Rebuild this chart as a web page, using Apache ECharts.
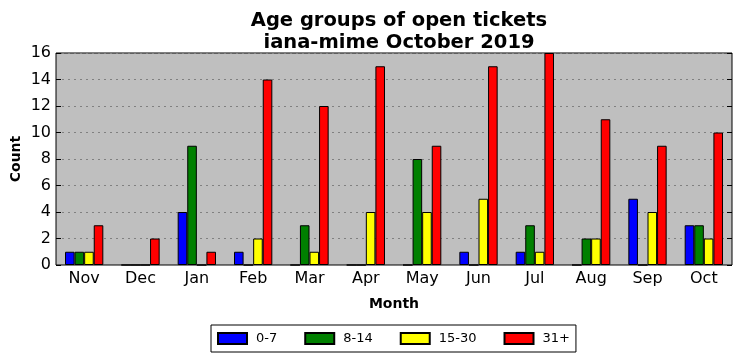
<!DOCTYPE html>
<html>
<head>
<meta charset="utf-8">
<script src="https://cdn.jsdelivr.net/npm/echarts@6/dist/echarts.min.js"></script>
<style>html,body{margin:0;padding:0;background:#fff}#c{width:741px;height:361px}</style>
</head>
<body>
<div id="c"></div>
<script>
var months = ['Nov','Dec','Jan','Feb','Mar','Apr','May','Jun','Jul','Aug','Sep','Oct'];
var seriesNames = ['0-7','8-14','15-30','31+'];
var colors = ['#0000ff','#008000','#ffff00','#ff0000'];
var age0_7   = [1,0,4,1,0,0,0,1,1,0,5,3];
var age8_14  = [1,0,9,0,3,0,8,0,3,2,0,3];
var age15_30 = [1,0,0,2,1,4,4,5,1,2,4,2];
var age31p   = [3,2,1,14,12,15,9,15,16,11,9,10];
var yTicks = [0,2,4,6,8,10,12,14,16];

var font = 'DejaVu Sans';
var values = [age0_7, age8_14, age15_30, age31p];
var chart = echarts.init(document.getElementById('c'));
chart.setOption({
  animation: false,
  textStyle: {fontFamily: font},
  title: {
    text: 'Age groups of open tickets\niana-mime October 2019',
    left: 394, top: 5, textAlign: 'center',
    textStyle: {fontFamily: font, fontSize: 19.5, fontWeight: 'bold', color: '#000', lineHeight: 22}
  },
  legend: {
    data: seriesNames,
    bottom: 9, left: 211,
    borderColor: '#000', borderWidth: 1,
    padding: [7, 6, 7, 6],
    itemWidth: 29, itemHeight: 11, itemGap: 27,
    icon: 'rect',
    textStyle: {fontFamily: font, fontSize: 13, color: '#000', padding: [0, 0, 0, 4]}
  },
  grid: {
    left: 56, right: 9, top: 53, bottom: 96,
    containLabel: false, outerBoundsMode: 'none',
    show: true, backgroundColor: '#bfbfbf', borderColor: '#000', borderWidth: 1
  },
  xAxis: [{
    type: 'category', data: months,
    name: 'Month', nameLocation: 'middle', nameGap: 32, nameMoveOverlap: false,
    nameTextStyle: {fontFamily: font, fontSize: 14, fontWeight: 'bold', color: '#000'},
    axisLine: {show: false},
    axisTick: {inside: true, alignWithLabel: true, length: 5, lineStyle: {color: '#000'}},
    axisLabel: {fontFamily: font, fontSize: 16, color: '#000', margin: 6},
    splitLine: {show: false}
  }, {
    type: 'category', data: months, position: 'top',
    axisLine: {show: false},
    axisTick: {inside: true, alignWithLabel: true, length: 5, lineStyle: {color: '#000'}},
    axisLabel: {show: false}
  }],
  yAxis: [{
    type: 'value', min: 0, max: 16, interval: 2,
    name: 'Count', nameLocation: 'middle', nameGap: 33, nameMoveOverlap: false,
    nameTextStyle: {fontFamily: font, fontSize: 14, fontWeight: 'bold', color: '#000'},
    axisLine: {show: false},
    axisTick: {show: true, inside: true, length: 5, lineStyle: {color: '#000'}},
    axisLabel: {fontFamily: font, fontSize: 16, color: '#000', margin: 5,
      formatter: function(v){ return yTicks.indexOf(v) >= 0 ? String(v) : ''; }},
    splitLine: {show: true, lineStyle: {color: '#808080', type: [2, 4], width: 1}}
  }, {
    type: 'value', min: 0, max: 16, interval: 2, position: 'right',
    axisLine: {show: false},
    axisTick: {show: true, inside: true, length: 5, lineStyle: {color: '#000'}},
    axisLabel: {show: false},
    splitLine: {show: false}
  }],
  series: seriesNames.map(function(n, i){
    return {
      name: n, type: 'bar', data: values[i],
      barGap: '0%', barCategoryGap: '32%',
      itemStyle: {color: colors[i], borderColor: '#000', borderWidth: 1}
    };
  })
});
</script>
</body>
</html>
